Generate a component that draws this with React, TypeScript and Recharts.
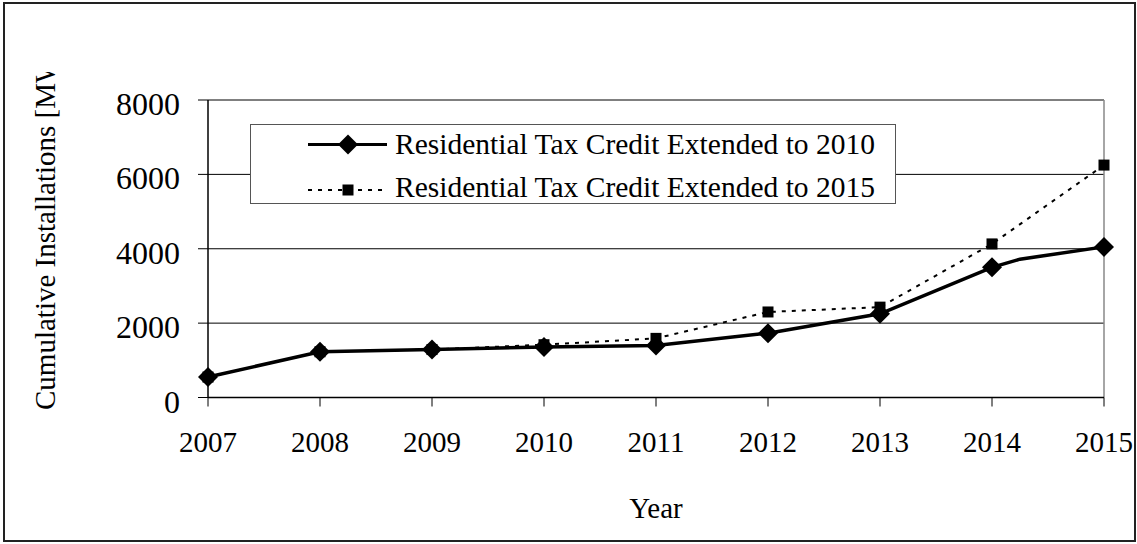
import { LineChart, Line, XAxis, YAxis, CartesianGrid, ReferenceLine } from "recharts";

// cumulative installations [MW]
const years = [2007, 2008, 2009, 2010, 2011, 2012, 2013, 2014, 2014.25, 2015];
const credit2010 = [550, 1230, 1290, 1360, 1400, 1730, 2250, 3500, 3720, 4050];
const credit2015 = [550, 1230, 1290, 1420, 1590, 2300, 2430, 4130, null, 6250];
const xTicks = [2007, 2008, 2009, 2010, 2011, 2012, 2013, 2014, 2015];
const yTicks = [0, 2000, 4000, 6000, 8000];
const seriesNames = [
  "Residential Tax Credit Extended to 2010",
  "Residential Tax Credit Extended to 2015",
];

const FONT = '"Liberation Serif", "Times New Roman", serif';

const data = years.map((year, i) => ({
  year,
  ext2010: credit2010[i],
  ext2015: credit2015[i],
}));

function diamondPoints(cx: number, cy: number, r: number) {
  return `${cx},${cy - r} ${cx + r},${cy} ${cx},${cy + r} ${cx - r},${cy}`;
}

function DiamondDot(props: any) {
  const { cx, cy, payload, index } = props;
  if (cy == null || !Number.isInteger(payload?.year)) return <g key={`dd-${index}`} />;
  return <polygon key={`dd-${index}`} points={diamondPoints(cx, cy, 10)} fill="#000" />;
}

function SquareDot(props: any) {
  const { cx, cy, payload, index } = props;
  if (cy == null || !Number.isInteger(payload?.year)) return <g key={`sd-${index}`} />;
  return <rect key={`sd-${index}`} x={cx - 5.5} y={cy - 5.5} width={11} height={11} fill="#000" />;
}

function YTick({ x, y, payload }: any) {
  return (
    <text x={x} y={y + 15} textAnchor="end" fontFamily={FONT} fontSize={32} fill="#000">
      {payload.value}
    </text>
  );
}

function XTick({ x, y, payload }: any) {
  return (
    <text x={x} y={y + 45.5} textAnchor="middle" fontFamily={FONT} fontSize={29} fill="#000">
      {payload.value}
    </text>
  );
}

// the title is cut off at the top in the original, so clip it the same way
function YTitle() {
  return (
    <g>
      <defs>
        <clipPath id="ytitle-clip">
          <rect x={0} y={72} width={120} height={400} />
        </clipPath>
      </defs>
      <g clipPath="url(#ytitle-clip)">
        <text
          x={55}
          y={410}
          transform="rotate(-90 55 410)"
          textAnchor="start"
          fontFamily={FONT}
          fontSize={29}
          fill="#000"
        >
          Cumulative Installations [MW]
        </text>
      </g>
    </g>
  );
}

function XTitle() {
  return (
    <text x={656} y={518} textAnchor="middle" fontFamily={FONT} fontSize={29} fill="#000">
      Year
    </text>
  );
}

function LegendBox() {
  return (
    <div
      style={{
        position: "absolute",
        left: 250,
        top: 124,
        width: 646,
        height: 80,
        boxSizing: "border-box",
        border: "1px solid #555",
        background: "#fff",
      }}
    >
      <svg width={644} height={78} style={{ display: "block" }}>
        <line x1={57} x2={136} y1={19.5} y2={19.5} stroke="#000" strokeWidth={3} />
        <polygon points={diamondPoints(97, 19.5, 10)} fill="#000" />
        <text x={144} y={28.5} fontFamily={FONT} fontSize={29.5} fill="#000">
          {seriesNames[0]}
        </text>
        <line x1={57} x2={136} y1={65} y2={65} stroke="#000" strokeWidth={2} strokeDasharray="4 6" />
        <rect x={91.5} y={59.5} width={11} height={11} fill="#000" />
        <text x={144} y={71.5} fontFamily={FONT} fontSize={29.5} fill="#000">
          {seriesNames[1]}
        </text>
      </svg>
    </div>
  );
}

export default function App() {
  return (
    <div style={{ position: "absolute", left: 0, top: 0, width: 1137, height: 544, background: "#fff" }}>
      <div
        style={{
          position: "absolute",
          left: 3,
          top: 2,
          width: 1133,
          height: 540,
          boxSizing: "border-box",
          border: "2px solid #222",
        }}
      />
      <LineChart
        width={1137}
        height={544}
        data={data}
        margin={{ top: 100, right: 33, bottom: 86.5, left: 108 }}
      >
        <CartesianGrid horizontal vertical={false} stroke="#000" strokeWidth={1} />
        <XAxis
          dataKey="year"
          type="number"
          domain={[2007, 2015]}
          ticks={xTicks}
          interval={0}
          height={60}
          tickSize={9}
          tickMargin={0}
          tick={<XTick />}
          axisLine={{ stroke: "#000", strokeWidth: 1.5 }}
          tickLine={{ stroke: "#000" }}
          label={<XTitle />}
        />
        <YAxis
          type="number"
          domain={[0, 8000]}
          ticks={yTicks}
          interval={0}
          width={100}
          tickSize={10}
          tickMargin={18}
          tick={<YTick />}
          axisLine={{ stroke: "#000", strokeWidth: 1.5 }}
          tickLine={{ stroke: "#000" }}
          label={<YTitle />}
        />
        <ReferenceLine x={2015} stroke="#888" strokeWidth={1.5} />
        <Line
          dataKey="ext2015"
          name={seriesNames[1]}
          stroke="#000"
          strokeWidth={2}
          strokeDasharray="4 6"
          connectNulls
          dot={(p: any) => <SquareDot key={`s-${p.index}`} {...p} />}
          activeDot={false}
          isAnimationActive={false}
        />
        <Line
          dataKey="ext2010"
          name={seriesNames[0]}
          stroke="#000"
          strokeWidth={3.5}
          dot={(p: any) => <DiamondDot key={`d-${p.index}`} {...p} />}
          activeDot={false}
          isAnimationActive={false}
        />
      </LineChart>
      <LegendBox />
    </div>
  );
}
